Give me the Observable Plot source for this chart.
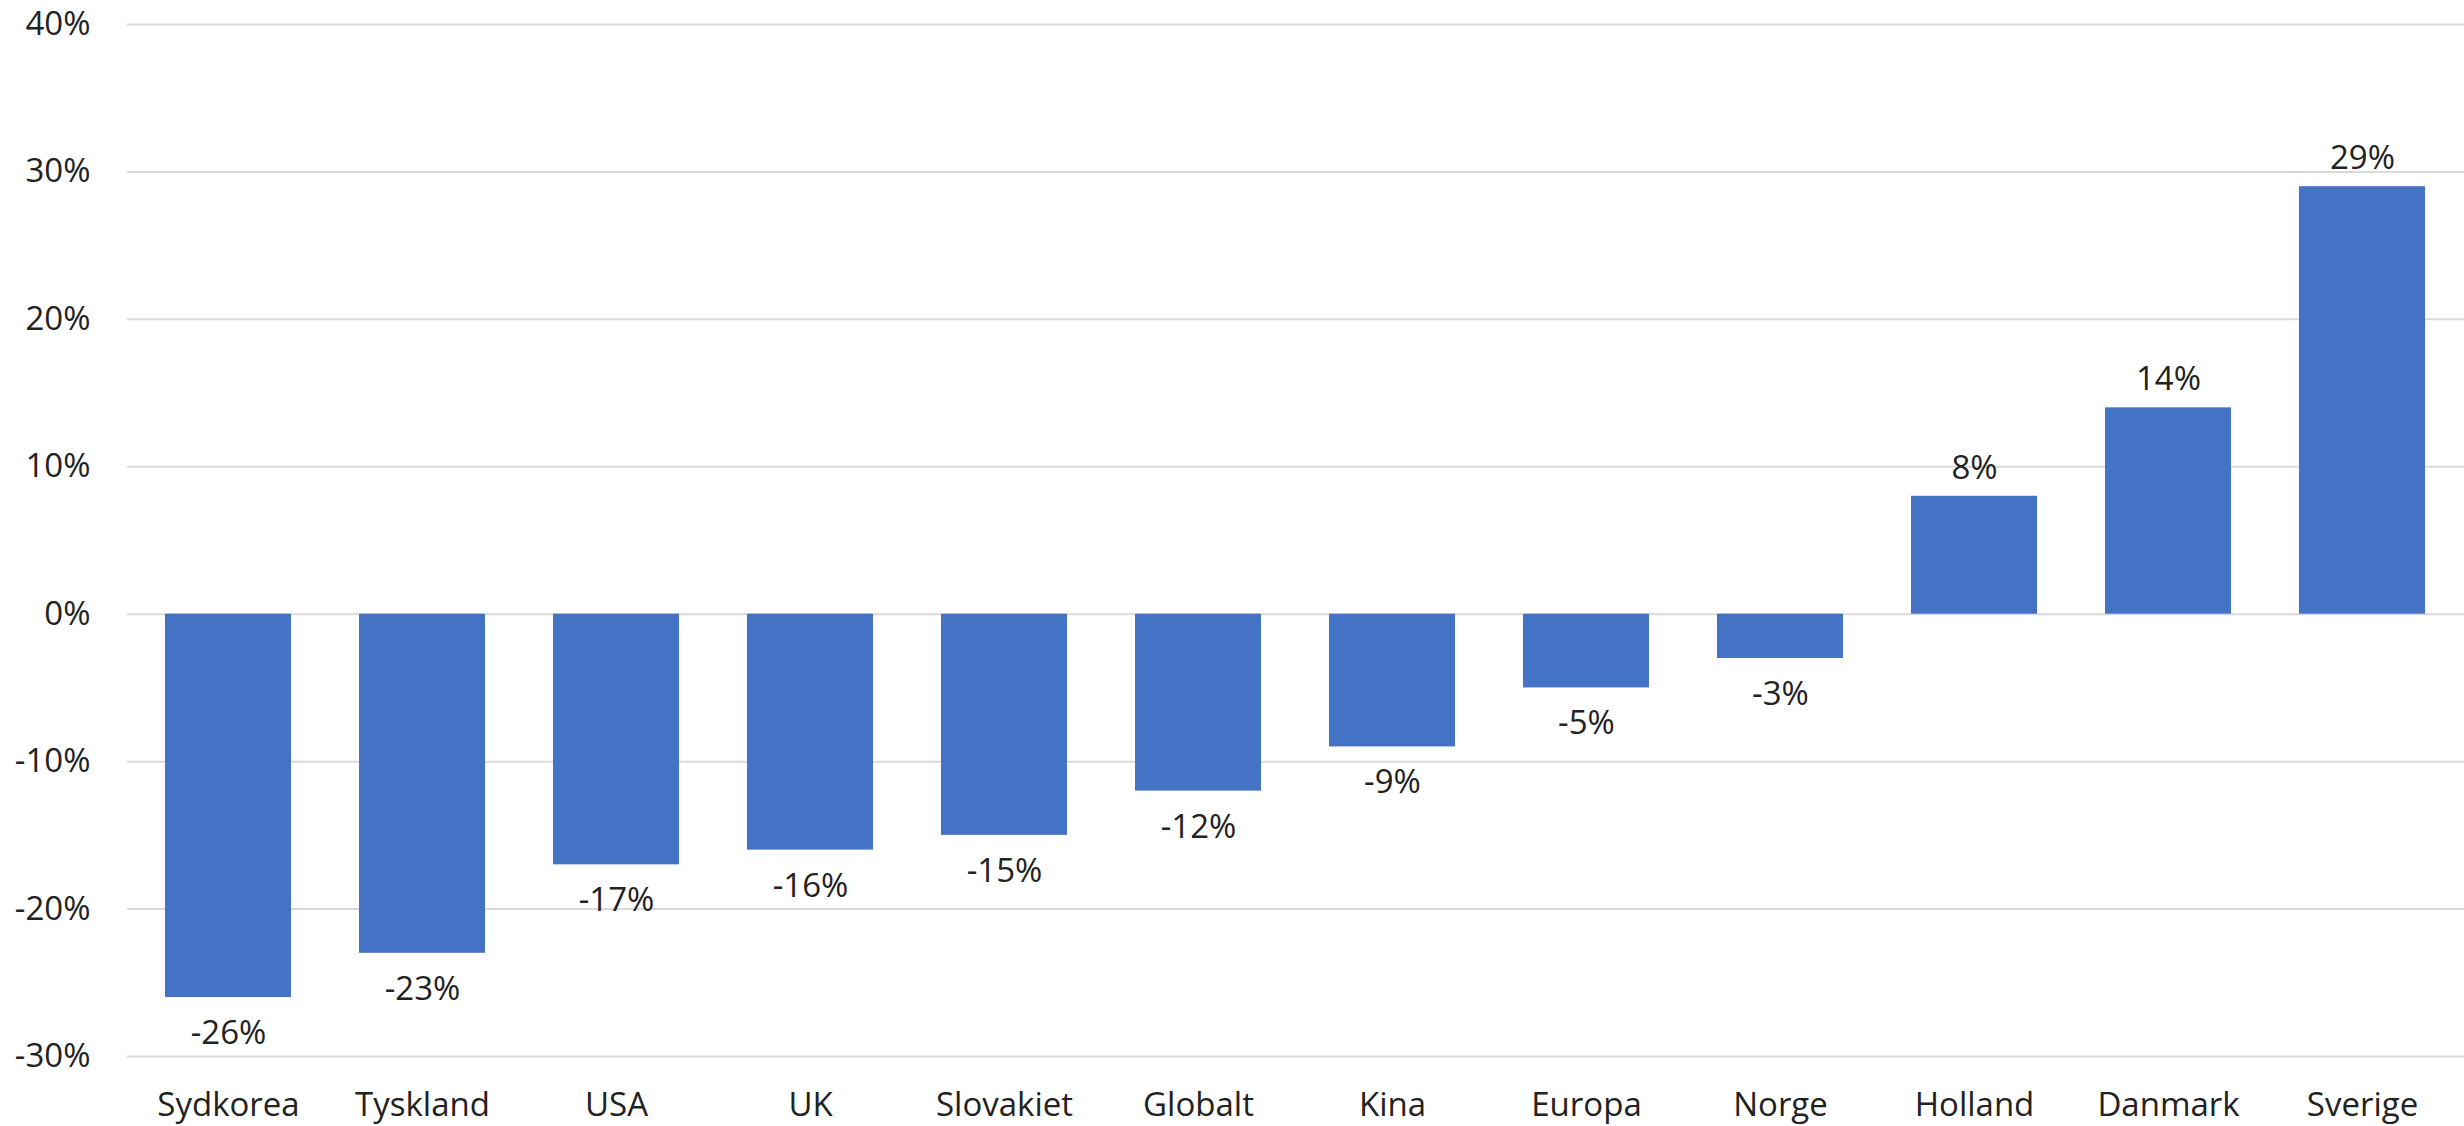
<!DOCTYPE html>
<html>
<head>
<meta charset="utf-8">
<script src="https://cdn.jsdelivr.net/npm/d3@7"></script>
<script src="https://cdn.jsdelivr.net/npm/@observablehq/plot@0.6"></script>
<style>
  html, body { margin: 0; padding: 0; background: #ffffff; }
  #chart svg { display: block; }
</style>
</head>
<body>
<div id="chart"></div>
<script>
const categories = ["Sydkorea", "Tyskland", "USA", "UK", "Slovakiet", "Globalt", "Kina", "Europa", "Norge", "Holland", "Danmark", "Sverige"];
const values = [-26, -23, -17, -16, -15, -12, -9, -5, -3, 8, 14, 29];
const yTicks = [-30, -20, -10, 0, 10, 20, 30, 40];

const data = categories.map((c, i) => ({category: c, value: values[i]}));
const fmt = d => d + "%";

const chart = Plot.plot({
  width: 2464,
  height: 1126,
  marginLeft: 127,
  marginRight: 0,
  marginTop: 24,
  marginBottom: 70,
  style: {fontFamily: "'Open Sans', sans-serif", fontSize: "33px", color: "#222222", background: "#ffffff"},
  x: {domain: categories, paddingInner: 0.35, paddingOuter: 0.18, label: null, tickSize: 0, tickPadding: 36},
  y: {domain: [-30, 40], ticks: yTicks, tickFormat: fmt, label: null, tickSize: 0, tickPadding: 37},
  marks: [
    Plot.ruleY(yTicks, {stroke: "#d9d9d9", strokeWidth: 2}),
    Plot.barY(data, {x: "category", y: "value", fill: "#4472C4"}),
    Plot.text(data.filter(d => d.value >= 0), {x: "category", y: "value", text: d => fmt(d.value), dy: -28, fill: "#222222"}),
    Plot.text(data.filter(d => d.value < 0), {x: "category", y: "value", text: d => fmt(d.value), dy: 36, fill: "#222222"})
  ]
});
document.getElementById("chart").appendChild(chart);
</script>
</body>
</html>
